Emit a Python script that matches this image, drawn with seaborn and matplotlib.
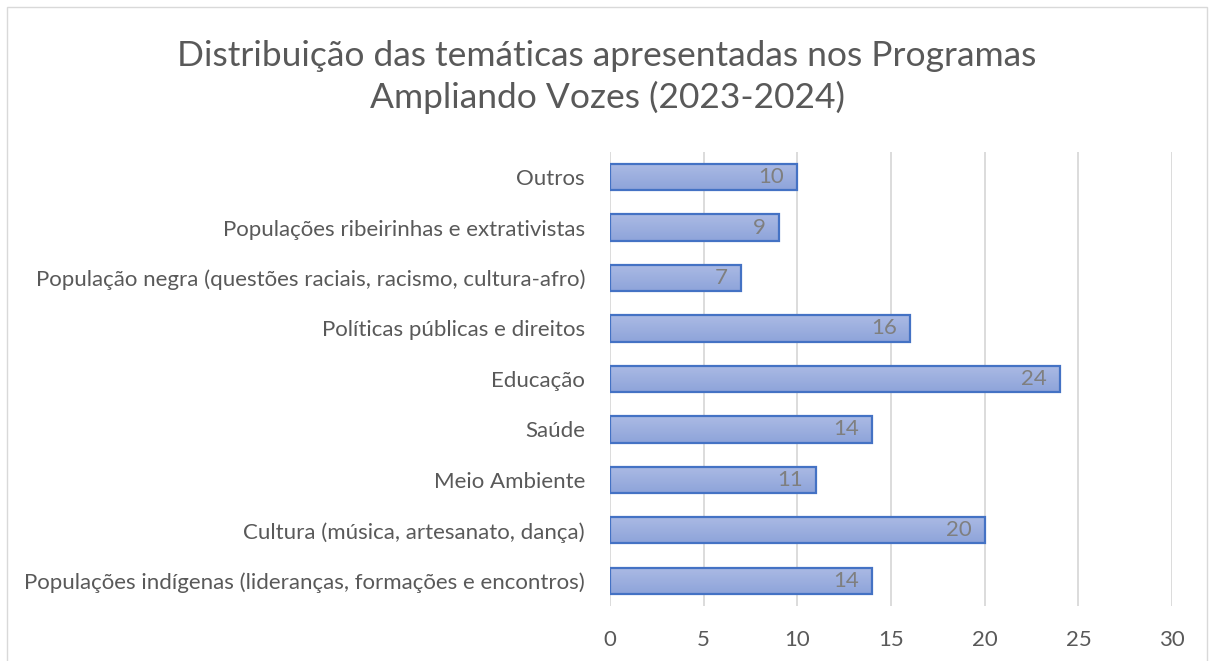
import matplotlib
matplotlib.use("Agg")
import matplotlib.pyplot as plt
import seaborn as sns
import pandas as pd
import numpy as np
from matplotlib.patches import Rectangle
from matplotlib.colors import LinearSegmentedColormap

# data, top to bottom as in the chart
categories = [
    "Outros",
    "Populações ribeirinhas e extrativistas",
    "População negra (questões raciais, racismo, cultura-afro)",
    "Políticas públicas e direitos",
    "Educação",
    "Saúde",
    "Meio Ambiente",
    "Cultura (música, artesanato, dança)",
    "Populações indígenas (lideranças, formações e encontros)",
]
values = [10, 9, 7, 16, 24, 14, 11, 20, 14]
x_ticks = [0, 5, 10, 15, 20, 25, 30]
title = "Distribuição das temáticas apresentadas nos Programas\nAmpliando Vozes (2023-2024)"

df = pd.DataFrame({"tema": categories, "qtd": values})

sns.set_theme(style="white")
plt.rcParams['font.family'] = ['Lato', 'DejaVu Sans']

fig = plt.figure(figsize=(12.14, 6.61), dpi=100)
ax = fig.add_axes([0.5025, 0.0832, 0.463, 0.687])

sns.barplot(data=df, x="qtd", y="tema", order=categories, color="#9dafe0",
            width=0.52, edgecolor="#4472c4", linewidth=1.6, saturation=1, ax=ax)

ax.set_xlim(0, 30)
ax.set_ylim(len(categories) - 0.5, -0.5)

# gradient fill like the excel bars (lighter top, darker bottom)
grad = LinearSegmentedColormap.from_list("g", ["#abbae4", "#8ea4da"])
for p in ax.patches:
    x0, y0 = p.get_x(), p.get_y()
    w, h = p.get_width(), p.get_height()
    im = ax.imshow(np.linspace(0, 1, 50).reshape(-1, 1), cmap=grad, aspect="auto",
                   extent=[x0, x0 + w, y0 + h, y0], origin="upper", zorder=p.get_zorder() - 0.01)
    im.set_clip_path(p)
    p.set_facecolor("none")
ax.set_xlim(0, 30)
ax.set_ylim(len(categories) - 0.5, -0.5)
ax.set_aspect("auto")

ax.set_xticks(x_ticks)
ax.xaxis.grid(True, color="#d9d9d9", linewidth=1.3)
ax.set_axisbelow(True)
for s in ax.spines.values():
    s.set_visible(False)
ax.set_xlabel("")
ax.set_ylabel("")
ax.tick_params(axis="both", length=0, labelsize=16, labelcolor="#595959")
ax.tick_params(axis="x", pad=17)
ax.tick_params(axis="y", pad=18)

# value labels inside the bar end
for i, v in enumerate(values):
    ax.text(v - 0.7, i, str(v), ha="right", va="center", fontsize=16, color="#7f7f7f")

fig.text(0.5, 0.883, title, ha="center", va="center", fontsize=25.5, color="#595959",
         linespacing=1.32)

# chart area outline
fig.patches.append(Rectangle((0.006, -0.01), 0.988, 1.0, transform=fig.transFigure,
                             fill=False, edgecolor="#d9d9d9", linewidth=1))

fig.savefig("out.png", dpi=100)
